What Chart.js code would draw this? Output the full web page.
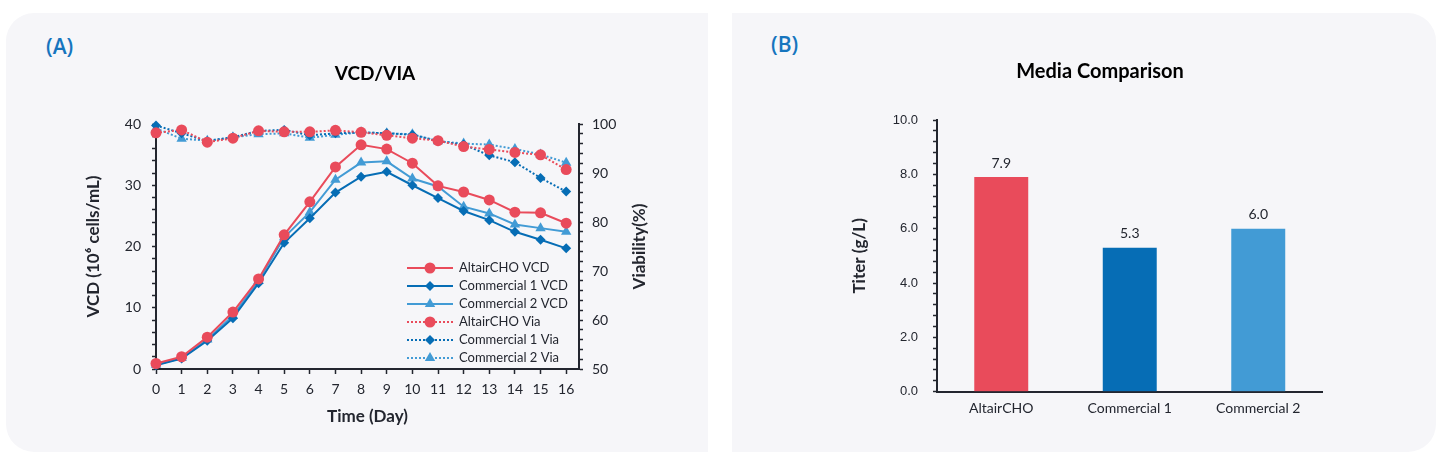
<!DOCTYPE html>
<html>
<head>
<meta charset="utf-8">
<script src="https://cdn.jsdelivr.net/npm/chart.js@4.4.0/dist/chart.umd.min.js"></script>
<style>
  html, body { margin: 0; padding: 0; background: #fff; width: 1440px; height: 465px; overflow: hidden; }
  .panel { position: absolute; background: #f6f6f9; }
  #panelA { left: 6px; top: 13px; width: 702px; height: 439px; border-radius: 28px 0 0 28px; }
  #panelB { left: 732px; top: 13px; width: 704px; height: 439px; border-radius: 0 28px 28px 0; }
  .tag { position: absolute; font-family: "Open Sans", sans-serif; font-weight: 600; font-size: 21px; color: #1675be; }
  canvas { position: absolute; top: 0; }
</style>
</head>
<body>
<div class="panel" id="panelA"></div>
<div class="panel" id="panelB"></div>
<div class="tag" style="left:46px; top:32px;">(A)</div>
<div class="tag" style="left:771px; top:30px;">(B)</div>
<canvas id="vcd" width="720" height="465" style="left:0"></canvas>
<canvas id="titer" width="720" height="465" style="left:720px"></canvas>
<script>
// culture days
const days = [0, 1, 2, 3, 4, 5, 6, 7, 8, 9, 10, 11, 12, 13, 14, 15, 16];

// VCD (10^6 cells/mL)
const altairVcd = [0.9, 2.0, 5.2, 9.3, 14.7, 21.9, 27.3, 33.0, 36.6, 35.9, 33.6, 29.9, 28.9, 27.6, 25.6, 25.5, 23.8];
const comm1Vcd  = [0.6, 1.7, 4.6, 8.3, 14.0, 20.6, 24.6, 28.8, 31.4, 32.2, 30.0, 27.9, 25.8, 24.3, 22.4, 21.1, 19.7];
const comm2Vcd  = [0.7, 1.8, 4.8, 8.7, 14.4, 21.5, 25.6, 30.9, 33.7, 33.9, 31.1, 29.8, 26.5, 25.4, 23.6, 23.0, 22.4];

// viability (%)
const altairVia = [98.2, 98.8, 96.3, 97.1, 98.6, 98.4, 98.4, 98.7, 98.3, 97.7, 97.1, 96.6, 95.4, 94.8, 94.2, 93.7, 90.7];
const comm1Via  = [99.7, 98.1, 96.5, 97.3, 98.6, 98.8, 97.7, 98.1, 98.3, 98.1, 97.8, 96.5, 95.8, 93.6, 92.2, 89.0, 86.2];
const comm2Via  = [99.1, 97.0, 96.6, 97.3, 97.9, 98.1, 97.2, 97.8, 98.3, 98.1, 97.9, 96.5, 96.0, 95.8, 94.9, 93.8, 92.1];

// titer (g/L)
const media = ["AltairCHO", "Commercial 1", "Commercial 2"];
const titer = [7.9, 5.3, 6.0];

const RED = "#e94b5b";
const DARK = "#066db5";
const LIGHT = "#429bd5";
const INK = "#23262f";
const TITLE_FONT = 'bold 17px Lato, "Noto Sans", sans-serif';

Chart.defaults.font.family = 'Lato, "Noto Sans", sans-serif';
Chart.defaults.color = INK;

const toXY = (vals) => vals.map((v, i) => ({ x: days[i], y: v }));

// legend drawn inside the plot area, like the original
const insetLegend = {
  id: "insetLegend",
  afterDatasetsDraw(chart, args, opts) {
    const ctx = chart.ctx;
    ctx.save();
    chart.data.datasets.forEach((ds, i) => {
      const y = opts.top + i * opts.rowHeight;
      ctx.strokeStyle = ds.borderColor;
      ctx.lineWidth = ds.borderWidth;
      ctx.setLineDash(ds.borderDash || []);
      ctx.beginPath();
      ctx.moveTo(opts.left, y);
      ctx.lineTo(opts.left + opts.lineLength, y);
      ctx.stroke();
      ctx.setLineDash([]);
      ctx.fillStyle = ds.borderColor;
      Chart.helpers.drawPoint(ctx, { pointStyle: ds.pointStyle, radius: ds.pointRadius, borderWidth: 0, rotation: 0 },
        opts.left + opts.lineLength / 2, y);
      ctx.fillStyle = INK;
      ctx.font = opts.font;
      ctx.textBaseline = "middle";
      ctx.fillText(ds.label, opts.left + opts.lineLength + 6, y);
    });
    ctx.restore();
  }
};

// chart.js turns right-hand axis titles the other way; this one reads bottom-up like the original
const rightTitle = {
  id: "rightTitle",
  afterDraw(chart, args, opts) {
    const s = chart.scales[opts.axis];
    const ctx = chart.ctx;
    ctx.save();
    ctx.translate(s.right - opts.inset, (s.top + s.bottom) / 2);
    ctx.rotate(-Math.PI / 2);
    ctx.font = TITLE_FONT;
    ctx.fillStyle = INK;
    ctx.textAlign = "center";
    ctx.textBaseline = "middle";
    ctx.fillText(opts.text, 0, 0);
    ctx.restore();
  }
};

const line = (label, data, color, style, radius, axis, dotted) => ({
  label,
  data: toXY(data),
  yAxisID: axis,
  borderColor: color,
  backgroundColor: color,
  pointBackgroundColor: color,
  pointBorderWidth: 0,
  borderWidth: 2,
  borderDash: dotted ? [2, 2] : [],
  pointStyle: style,
  pointRadius: radius,
  clip: false
});

const axisTitle = (text, padding) => ({ display: true, text, font: { size: 17, weight: "bold" }, padding });

new Chart(document.getElementById("vcd"), {
  type: "line",
  data: {
    datasets: [
      line("AltairCHO VCD", altairVcd, RED, "circle", 5.5, "y", false),
      line("Commercial 1 VCD", comm1Vcd, DARK, "rectRot", 5, "y", false),
      line("Commercial 2 VCD", comm2Vcd, LIGHT, "triangle", 6, "y", false),
      line("AltairCHO Via", altairVia, RED, "circle", 5.5, "y1", true),
      line("Commercial 1 Via", comm1Via, DARK, "rectRot", 5, "y1", true),
      line("Commercial 2 Via", comm2Via, LIGHT, "triangle", 6, "y1", true)
    ]
  },
  options: {
    responsive: false,
    animation: false,
    layout: { padding: { left: 30, right: 0, top: 0, bottom: 0 } },
    plugins: {
      legend: { display: false },
      tooltip: { enabled: false },
      title: { display: true, text: "VCD/VIA", font: { size: 19, weight: "bold" }, color: "#000", padding: { top: 62, bottom: 39.2 } },
      insetLegend: { left: 407, top: 268, rowHeight: 18, lineLength: 46, font: '13px Lato, "Noto Sans", sans-serif' },
      rightTitle: { axis: "y1", text: "Viability(%)", inset: 80 }
    },
    scales: {
      x: {
        type: "linear", min: 0, max: 16.5,
        afterFit: (s) => { s.height = 96; },
        ticks: { stepSize: 1, includeBounds: false, font: { size: 14 }, padding: 7 },
        grid: { drawOnChartArea: false, tickLength: 5, tickColor: INK, tickWidth: 1.5 },
        border: { color: INK, width: 2 },
        title: axisTitle("Time (Day)", { bottom: 38 })
      },
      y: {
        position: "left", min: 0, max: 40,
        afterFit: (s) => { s.width = 126; },
        ticks: { stepSize: 2, autoSkip: false, font: { size: 14 }, padding: 11, callback: (v) => (v % 10 === 0 ? v : "") },
        grid: { drawOnChartArea: false, tickLength: 4, tickColor: INK, tickWidth: 1.5 },
        border: { color: INK, width: 2 },
        title: axisTitle("VCD (10\u2076 cells/mL)", { top: 53 })
      },
      y1: {
        position: "right", min: 50, max: 100,
        afterFit: (s) => { s.width = 141; },
        ticks: { stepSize: 2, autoSkip: false, font: { size: 14 }, padding: 9, callback: (v) => (v % 10 === 0 ? v : "") },
        grid: { drawOnChartArea: false, tickLength: 4, tickColor: INK, tickWidth: 1.5 },
        border: { color: INK, width: 2 }
      }
    }
  },
  plugins: [insetLegend, rightTitle]
});

// value labels above bars
const barValues = {
  id: "barValues",
  afterDatasetsDraw(chart, args, opts) {
    const ctx = chart.ctx;
    const ds = chart.data.datasets[0];
    ctx.save();
    ctx.fillStyle = INK;
    ctx.font = opts.font;
    ctx.textAlign = "center";
    ctx.textBaseline = "bottom";
    chart.getDatasetMeta(0).data.forEach((bar, i) => {
      ctx.fillText(ds.data[i].toFixed(1), bar.x, bar.y - opts.offset);
    });
    ctx.restore();
  }
};

new Chart(document.getElementById("titer"), {
  type: "bar",
  data: {
    labels: media,
    datasets: [{
      label: "Titer",
      data: titer,
      backgroundColor: [RED, DARK, LIGHT],
      barPercentage: 0.42,
      categoryPercentage: 1
    }]
  },
  options: {
    responsive: false,
    animation: false,
    layout: { padding: { left: 40, right: 0, top: 0, bottom: 0 } },
    plugins: {
      legend: { display: false },
      tooltip: { enabled: false },
      title: { display: true, text: "Media Comparison", font: { size: 20, weight: "bold" }, color: "#000", padding: { top: 60, bottom: 36 } },
      barValues: { offset: 7, font: '14px Lato, "Noto Sans", sans-serif' }
    },
    scales: {
      x: {
        afterFit: (s) => { s.height = 73.3; },
        ticks: { font: { size: 14 }, padding: 8 },
        grid: { display: false, drawTicks: false },
        border: { color: INK, width: 2 }
      },
      y: {
        min: 0, max: 10,
        afterFit: (s) => { s.width = 177; },
        ticks: {
          stepSize: 0.4, autoSkip: false, padding: 15,
          font: { family: '"Liberation Sans", Arial, sans-serif', size: 13 },
          callback: (v) => (Math.abs(v / 2 - Math.round(v / 2)) < 1e-6 ? v.toFixed(1) : "")
        },
        grid: { drawOnChartArea: false, tickLength: 4, tickColor: INK, tickWidth: 1.5 },
        border: { color: INK, width: 2 },
        title: axisTitle("Titer (g/L)", { top: 89 })
      },
      // empty right-hand axis that only reserves space, so the title stays centred on the panel
      spacer: {
        position: "right", min: 0, max: 1,
        afterFit: (s) => { s.width = 117.5; },
        ticks: { display: false },
        grid: { display: false, drawTicks: false },
        border: { display: false }
      }
    }
  },
  plugins: [barValues]
});
</script>
</body>
</html>
